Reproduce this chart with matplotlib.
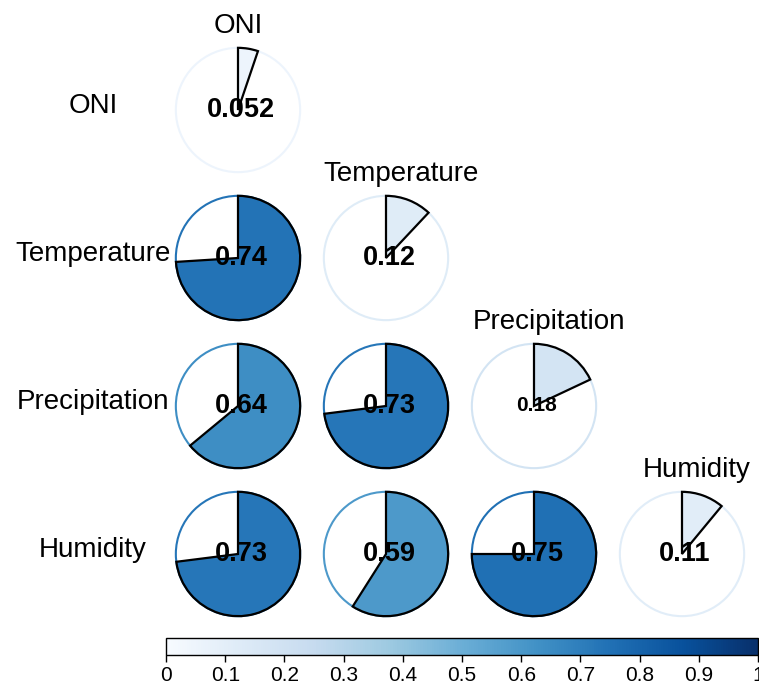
import numpy as np
import matplotlib.pyplot as plt
from matplotlib.patches import Circle, Wedge
from matplotlib.colors import Normalize
from matplotlib.cm import ScalarMappable

plt.rcParams['font.family'] = ['Liberation Sans', 'DejaVu Sans']

variables = ['ONI', 'Temperature', 'Precipitation', 'Humidity']

# lower triangle of the matrix, row by row (diagonal included)
values = [
    [0.052],
    [0.74, 0.12],
    [0.64, 0.73, 0.18],
    [0.73, 0.59, 0.75, 0.11],
]
value_text = [
    ['0.052'],
    ['0.74', '0.12'],
    ['0.64', '0.73', '0.18'],
    ['0.73', '0.59', '0.75', '0.11'],
]

cmap = plt.get_cmap('Blues')
norm = Normalize(0, 1)
radius = 0.42

fig = plt.figure(figsize=(7.59, 6.87), dpi=100)
ax = fig.add_axes([164 / 759, 59 / 687, 592 / 759, 592 / 687])
ax.set_xlim(-0.5, 3.5)
ax.set_ylim(-3.5, 0.5)
ax.set_aspect('equal')
ax.axis('off')

for i, row in enumerate(values):
    for j, v in enumerate(row):
        cx, cy = j, -i
        col = cmap(norm(v))
        ax.add_patch(Circle((cx, cy), radius, facecolor='white',
                            edgecolor=col, lw=1.5, zorder=1))
        ax.add_patch(Wedge((cx, cy), radius, 90 - 360 * v, 90,
                           facecolor=col, edgecolor='black', lw=1.6, zorder=2))
        size = 15 if value_text[i][j] == '0.18' else 19.5
        ax.text(cx + 0.02, cy, value_text[i][j], ha='center', va='center',
                fontsize=size, fontweight='bold', zorder=3)

# row names on the left, column names above the diagonal
for i, name in enumerate(variables):
    ax.text(-0.98, -i + 0.03, name, ha='center', va='center',
            fontsize=20, clip_on=False)
    dx = 0.0 if i == 0 else 0.1
    ax.text(i + dx, -i + 0.57, name, ha='center', va='center',
            fontsize=20, clip_on=False)

cax = fig.add_axes([166 / 759, 32 / 687, 592 / 759, 17 / 687])
cb = fig.colorbar(ScalarMappable(norm=norm, cmap=cmap), cax=cax,
                  orientation='horizontal')
cb.set_ticks(np.linspace(0, 1, 11))
cb.set_ticklabels(['0', '0.1', '0.2', '0.3', '0.4', '0.5', '0.6', '0.7',
                   '0.8', '0.9', '1'])
cb.ax.tick_params(labelsize=15, length=5, width=1, pad=3)
cb.outline.set_linewidth(1)

fig.savefig('out.png', dpi=100)
